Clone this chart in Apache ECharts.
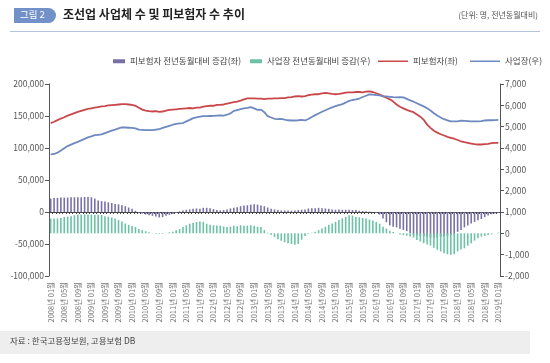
<!DOCTYPE html>
<html><head><meta charset="utf-8">
<script src="https://cdn.jsdelivr.net/npm/echarts@6/dist/echarts.min.js"></script>
<style>html,body{margin:0;padding:0;background:#fff}#c{width:550px;height:363px}</style>
</head><body><div id="c"></div>
<script>
const years = [2008,2009,2010,2011,2012,2013,2014,2015,2016,2017,2018,2019];
const categories = [];
years.forEach(y => { for (let m = 1; m <= 12; m++) { if (y === 2019 && m > 1) break; categories.push(y + '년 ' + (m < 10 ? '0' + m : m) + '월'); } });

// 피보험자 (left axis)
const insured = [
139000,141000,143500,146000,148000,150500,152500,154500,156500,158000,159500,161000,
162000,163000,164000,165000,165500,166500,167000,167500,168000,168500,168500,168000,
167500,166000,163000,160000,158500,157500,157000,157500,156500,157000,158500,159500,
160000,160500,161000,161500,162000,162500,162000,163000,163000,164500,165500,166000,
166000,167500,167500,168000,169500,170500,171500,172500,174000,176000,177500,177500,
177500,177000,177000,176500,177000,177000,177500,177500,178000,178000,179000,179500,
180500,181000,180500,181000,182500,183500,184000,184000,185500,186000,185500,184500,
184000,184500,185500,186500,187000,187000,187500,187500,187000,188000,188500,187500,
185500,183500,181000,178500,176000,172500,168000,164500,162000,159500,157500,156000,
152500,149000,144000,136500,131500,127000,124000,121500,119500,117500,116000,114500,
112500,110500,109000,108000,107000,106000,105500,105500,106000,106500,107500,108000,
108000];

// 사업장 (right axis)
const workplaces = [
3700,3720,3780,3880,3990,4090,4160,4230,4290,4360,4430,4500,
4550,4600,4620,4640,4700,4760,4810,4860,4920,4970,4960,4950,
4940,4920,4860,4850,4840,4840,4840,4860,4880,4940,4990,5040,
5090,5130,5150,5170,5250,5320,5400,5440,5470,5490,5490,5500,
5510,5520,5530,5520,5560,5620,5740,5780,5820,5860,5880,5920,
5860,5790,5800,5680,5490,5430,5370,5350,5370,5330,5300,5290,
5290,5300,5320,5290,5360,5450,5540,5620,5700,5770,5840,5900,
5960,6010,6060,6130,6210,6250,6280,6320,6390,6450,6510,6500,
6480,6470,6420,6420,6400,6380,6370,6380,6370,6300,6230,6170,
6100,6020,5950,5860,5760,5630,5520,5430,5350,5300,5250,5245,
5250,5280,5270,5260,5250,5245,5245,5260,5290,5300,5300,5310,
5320];

// 피보험자 전년동월대비 증감 (left axis)
const insuredYoY = [
21000,22000,22000,22500,22500,22500,23000,23000,23000,23000,23500,23500,
23000,21000,18000,17000,16500,15000,14000,12500,12000,10500,9000,7000,
5000,2000,-1000,-2500,-4000,-5000,-6000,-7000,-8500,-8000,-6000,-4500,
-3000,-1500,1000,2500,3500,4000,5000,5500,5000,6500,6500,6000,
4500,3000,2500,3000,4000,5500,6500,7500,9000,10000,10500,11500,
12000,11500,10000,9000,7000,5000,4000,3000,2500,2500,2500,2000,
2500,3000,3500,4000,5500,6000,6000,6500,6000,5500,5000,4000,
3500,4000,3500,3500,3500,3000,3000,2000,1500,1000,500,0,
-1500,-4000,-10000,-16000,-21000,-23000,-24000,-26000,-28000,-30000,-33000,-35000,
-36000,-37000,-38000,-39000,-40000,-40500,-40000,-39000,-38000,-37000,-36000,-35000,
-31000,-28000,-24000,-21000,-18000,-15500,-13000,-11000,-8000,-5500,-3500,-2500,
-1500];

// 사업장 전년동월대비 증감 (right axis)
const workplaceYoY = [
690,700,700,720,770,780,800,850,880,880,890,880,
880,870,870,860,800,780,740,700,620,560,460,400,
340,300,200,150,100,50,10,-20,-30,-30,0,50,
80,150,200,300,380,450,500,530,550,540,450,400,
380,370,360,320,300,320,350,330,380,350,360,380,
350,310,300,150,30,-80,-180,-280,-350,-420,-460,-500,
-540,-500,-300,-120,-30,30,80,150,230,310,400,460,
540,620,700,770,850,830,770,750,720,690,650,600,
540,450,310,220,120,60,0,-50,-80,-110,-150,-200,
-310,-380,-460,-520,-570,-670,-770,-850,-930,-980,-1000,-980,
-850,-760,-700,-580,-460,-340,-230,-150,-120,-80,-50,0,
30];

const seriesNames = ['피보험자 전년동월대비 증감(좌)', '사업장 전년동월대비 증감(우)', '피보험자(좌)', '사업장(우)'];
const leftTicks = [-100000, 200000, 50000];
const rightTicks = [-2000, 7000, 1000];

const colors = { purple: '#7a70a8', teal: '#6cc2a6', red: '#c9474a', blue: '#6e89bf', axis: '#555' };
const font = '"Noto Sans CJK KR", "Noto Sans", sans-serif';
const fmt = v => v.toLocaleString('en-US');

const legendText = { fontSize: 8.5, color: '#444', fontFamily: font };
const legendPos = [108, 245, 373, 465];
const legends = seriesNames.map((n, i) => ({
  data: [n], left: legendPos[i], top: 52, icon: 'rect',
  itemWidth: i < 2 ? 12 : 30, itemHeight: i < 2 ? 4 : 1.5, itemGap: 5,
  textStyle: legendText
}));

const chart = echarts.init(document.getElementById('c'), null, { renderer: 'canvas' });
chart.setOption({
  animation: false,
  textStyle: { fontFamily: font },
  grid: { left: 49, right: 50, top: 84, bottom: 87 },
  legend: legends,
  xAxis: [
    { type: 'category', data: categories, boundaryGap: true,
      axisLine: { onZero: true, onZeroAxisIndex: 0, lineStyle: { color: '#444', width: 1 } },
      axisTick: { show: true, interval: 0, length: 2, lineStyle: { color: '#444' } },
      axisLabel: { show: false } },
    { type: 'category', data: categories, position: 'bottom', boundaryGap: true,
      axisLine: { show: false, onZero: false }, axisTick: { show: false },
      axisLabel: { interval: 3, rotate: 90, fontSize: 7.5, color: '#777', margin: 6, fontFamily: font } }
  ],
  yAxis: [
    { type: 'value', min: leftTicks[0], max: leftTicks[1], interval: leftTicks[2], position: 'left',
      splitLine: { show: false },
      axisLine: { show: true, lineStyle: { color: colors.axis } },
      axisTick: { show: true, length: 4, lineStyle: { color: colors.axis } },
      axisLabel: { fontSize: 8.5, color: '#555', margin: 5, formatter: fmt } },
    { type: 'value', min: rightTicks[0], max: rightTicks[1], interval: rightTicks[2], position: 'right',
      splitLine: { show: false },
      axisLine: { show: true, lineStyle: { color: colors.axis } },
      axisTick: { show: true, length: 4, lineStyle: { color: colors.axis } },
      axisLabel: { fontSize: 8.5, color: '#555', margin: 5, formatter: fmt } }
  ],
  series: [
    { name: seriesNames[0], type: 'bar', xAxisIndex: 0, yAxisIndex: 0, data: insuredYoY, barWidth: 1.6, barGap: '-100%',
      itemStyle: { color: colors.purple } },
    { name: seriesNames[1], type: 'bar', xAxisIndex: 0, yAxisIndex: 1, data: workplaceYoY, barWidth: 1.6, barGap: '-100%',
      itemStyle: { color: colors.teal } },
    { name: seriesNames[2], type: 'line', xAxisIndex: 0, yAxisIndex: 0, data: insured, showSymbol: false, symbol: 'none',
      lineStyle: { color: colors.red, width: 1.8 }, itemStyle: { color: colors.red } },
    { name: seriesNames[3], type: 'line', xAxisIndex: 0, yAxisIndex: 1, data: workplaces, showSymbol: false, symbol: 'none',
      lineStyle: { color: colors.blue, width: 1.8 }, itemStyle: { color: colors.blue } }
  ],
  graphic: [
    { type: 'rect', left: 14, top: 8, shape: { width: 42, height: 15, r: [0, 8, 8, 0] }, style: { fill: '#7391c9' } },
    { type: 'text', left: 20, top: 10, style: { text: '그림 2', fill: '#fff', font: '9.5px ' + font } },
    { type: 'text', left: 63, top: 8, style: { text: '조선업 사업체 수 및 피보험자 수 추이', fill: '#222', font: 'bold 12px ' + font } },
    { type: 'text', right: 12, top: 11, style: { text: '(단위: 명, 전년동월대비)', fill: '#555', font: '8px ' + font } },
    { type: 'rect', left: 10, top: 31, shape: { width: 530, height: 1 }, style: { fill: '#b3c4dc' } },
    { type: 'rect', left: 0, top: 331, shape: { width: 530, height: 23 }, style: { fill: '#eeeeee' } },
    { type: 'text', left: 10, top: 337, style: { text: '자료 : 한국고용정보원, 고용보험 DB', fill: '#444', font: '8.5px ' + font } }
  ]
});
</script></body></html>
